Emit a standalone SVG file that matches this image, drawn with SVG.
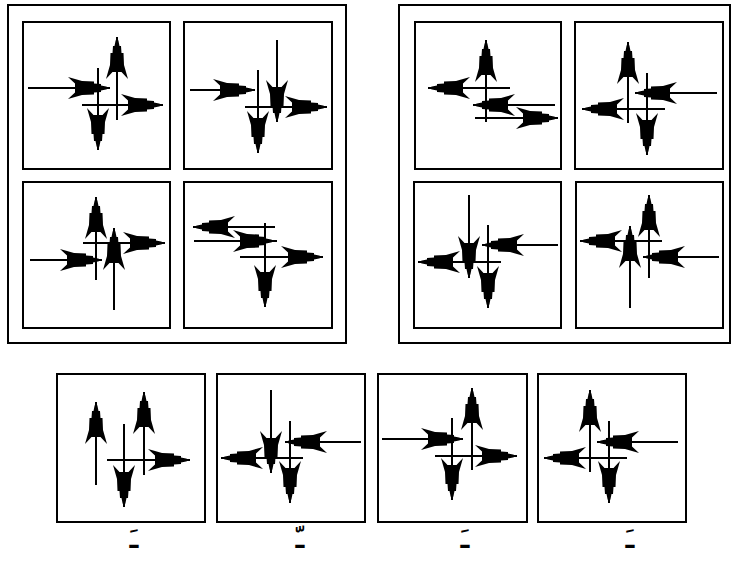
<svg xmlns="http://www.w3.org/2000/svg" xmlns:xlink="http://www.w3.org/1999/xlink" width="732" height="572" viewBox="0 0 732 572">
<style>
.fr{fill:none;stroke:#000;stroke-width:2}
.cell{fill:#fff;stroke:#000;stroke-width:2}
.ln{fill:none;stroke:#000;stroke-width:2}
.lb{font-family:"DejaVu Sans",sans-serif;font-size:26px;font-weight:bold;fill:#000}
</style>
<defs>
<path id="ah" d="M0,0 L-4,-1.5 L-9,-2.5 L-9,-4 L-16,-4.5 L-16,-6.5 L-28,-7 L-42,-11 L-35,-4.5 L-35,4.5 L-42,11 L-28,7 L-16,6.5 L-16,4.5 L-9,4 L-9,2.5 L-4,1.5 Z" fill="#000"/>
</defs>
<rect width="732" height="572" fill="#fff"/>
<rect class="fr" x="8" y="5" width="338" height="338"/>
<rect class="fr" x="399" y="5" width="331" height="338"/>

<g id="A">
<rect class="cell" x="23" y="22" width="147" height="147"/>
<path class="ln" d="M28,88H110M117,120V37M98,68V150M82,105H163"/>
<use xlink:href="#ah" transform="translate(110,88)"/>
<use xlink:href="#ah" transform="translate(117,37) rotate(-90)"/>
<use xlink:href="#ah" transform="translate(98,150) rotate(90)"/>
<use xlink:href="#ah" transform="translate(163,105)"/>
</g>

<g id="B">
<rect class="cell" x="184" y="22" width="148" height="147"/>
<path class="ln" d="M190,90H255M258,70V153M277,40V122M245,107H327"/>
<use xlink:href="#ah" transform="translate(255,90)"/>
<use xlink:href="#ah" transform="translate(258,153) rotate(90)"/>
<use xlink:href="#ah" transform="translate(277,122) rotate(90)"/>
<use xlink:href="#ah" transform="translate(327,107)"/>
</g>

<g id="C">
<rect class="cell" x="23" y="182" width="147" height="146"/>
<path class="ln" d="M96,280V197M83,243H165M30,260H102M114,310V228"/>
<use xlink:href="#ah" transform="translate(96,197) rotate(-90)"/>
<use xlink:href="#ah" transform="translate(165,243)"/>
<use xlink:href="#ah" transform="translate(102,260)"/>
<use xlink:href="#ah" transform="translate(114,228) rotate(-90)"/>
</g>

<g id="D">
<rect class="cell" x="184" y="182" width="148" height="146"/>
<path class="ln" d="M193,227H275M194,241H277M265,223V307M240,257H323"/>
<use xlink:href="#ah" transform="translate(193,227) rotate(180)"/>
<use xlink:href="#ah" transform="translate(275,241)"/>
<use xlink:href="#ah" transform="translate(265,307) rotate(90)"/>
<use xlink:href="#ah" transform="translate(323,257)"/>
</g>

<g id="E">
<rect class="cell" x="415" y="22" width="146" height="147"/>
<path class="ln" d="M486,122V40M428,88H510M473,105H555M475,118H558"/>
<use xlink:href="#ah" transform="translate(486,40) rotate(-90)"/>
<use xlink:href="#ah" transform="translate(428,88) rotate(180)"/>
<use xlink:href="#ah" transform="translate(473,105) rotate(180)"/>
<use xlink:href="#ah" transform="translate(558,118)"/>
</g>

<g id="F">
<rect class="cell" x="575" y="22" width="148" height="147"/>
<path class="ln" d="M628,123V42M635,93H717M582,109H665M647,73V155"/>
<use xlink:href="#ah" transform="translate(628,42) rotate(-90)"/>
<use xlink:href="#ah" transform="translate(635,93) rotate(180)"/>
<use xlink:href="#ah" transform="translate(582,109) rotate(180)"/>
<use xlink:href="#ah" transform="translate(647,155) rotate(90)"/>
</g>

<g id="G">
<rect class="cell" x="414" y="182" width="147" height="146"/>
<path class="ln" d="M469,195V278M488,225V308M482,245H558M418,262H501"/>
<use xlink:href="#ah" transform="translate(469,278) rotate(90)"/>
<use xlink:href="#ah" transform="translate(488,308) rotate(90)"/>
<use xlink:href="#ah" transform="translate(482,245) rotate(180)"/>
<use xlink:href="#ah" transform="translate(418,262) rotate(180)"/>
</g>

<g id="H">
<rect class="cell" x="576" y="182" width="147" height="146"/>
<path class="ln" d="M649,278V195M580,241H662M630,308V226M643,257H719"/>
<use xlink:href="#ah" transform="translate(649,195) rotate(-90)"/>
<use xlink:href="#ah" transform="translate(580,241) rotate(180)"/>
<use xlink:href="#ah" transform="translate(630,226) rotate(-90)"/>
<use xlink:href="#ah" transform="translate(643,257) rotate(180)"/>
</g>

<g id="I">
<rect class="cell" x="57" y="374" width="148" height="148"/>
<path class="ln" d="M96,485V402M144,475V392M124,424V507M107,460H190"/>
<use xlink:href="#ah" transform="translate(96,402) rotate(-90)"/>
<use xlink:href="#ah" transform="translate(144,392) rotate(-90)"/>
<use xlink:href="#ah" transform="translate(124,507) rotate(90)"/>
<use xlink:href="#ah" transform="translate(190,460)"/>
</g>

<g id="J">
<rect class="cell" x="217" y="374" width="148" height="148"/>
<path class="ln" d="M271,390V473M290,421V503M285,442H361M221,458H303"/>
<use xlink:href="#ah" transform="translate(271,473) rotate(90)"/>
<use xlink:href="#ah" transform="translate(290,503) rotate(90)"/>
<use xlink:href="#ah" transform="translate(285,442) rotate(180)"/>
<use xlink:href="#ah" transform="translate(221,458) rotate(180)"/>
</g>

<g id="K">
<rect class="cell" x="378" y="374" width="149" height="148"/>
<path class="ln" d="M382,439H463M472,470V388M452,418V500M435,456H517"/>
<use xlink:href="#ah" transform="translate(463,439)"/>
<use xlink:href="#ah" transform="translate(472,388) rotate(-90)"/>
<use xlink:href="#ah" transform="translate(452,500) rotate(90)"/>
<use xlink:href="#ah" transform="translate(517,456)"/>
</g>

<g id="L">
<rect class="cell" x="538" y="374" width="148" height="148"/>
<path class="ln" d="M590,472V390M597,442H678M544,458H627M609,421V503"/>
<use xlink:href="#ah" transform="translate(590,390) rotate(-90)"/>
<use xlink:href="#ah" transform="translate(597,442) rotate(180)"/>
<use xlink:href="#ah" transform="translate(544,458) rotate(180)"/>
<use xlink:href="#ah" transform="translate(609,503) rotate(90)"/>
</g>

<g id="labels">
<text class="lb" x="134" y="548" text-anchor="middle">ـَ</text>
<text class="lb" x="300" y="548" text-anchor="middle">ـّ</text>
<text class="lb" x="465" y="548" text-anchor="middle">ـَ</text>
<text class="lb" x="630" y="548" text-anchor="middle">ـَ</text>
</g>
</svg>
